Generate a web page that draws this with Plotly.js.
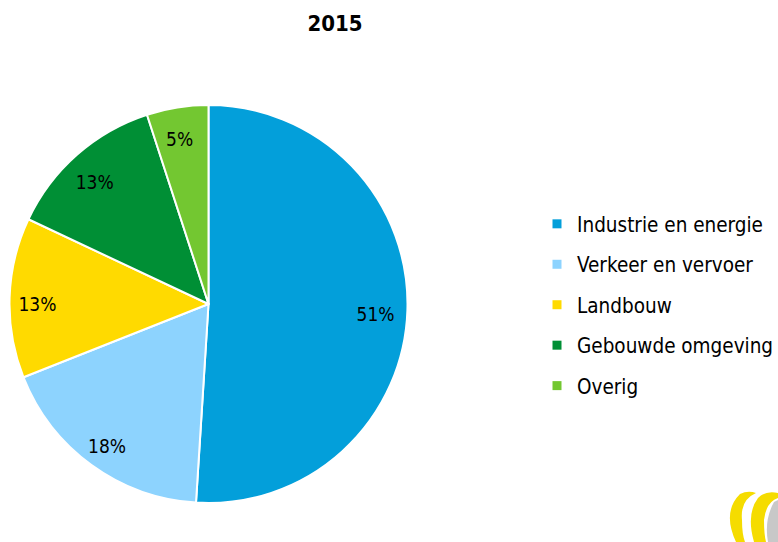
<!DOCTYPE html>
<html>
<head>
<meta charset="utf-8">
<script src="https://cdn.plot.ly/plotly-3.0.1.min.js"></script>
<style>html,body{margin:0;padding:0;background:#fff;}#chart{width:778px;height:542px;}</style>
</head>
<body>
<div id="chart"></div>
<script>
const title = '2015';
const categories = ['Industrie en energie', 'Verkeer en vervoer', 'Landbouw', 'Gebouwde omgeving', 'Overig'];
const values = [51, 18, 13, 13, 5];
const colors = ['#039FDA', '#8DD3FE', '#FFDA00', '#008F35', '#73C731'];

const FONT = '"DejaVu Sans Condensed", "DejaVu Sans", sans-serif';
function dom(cx, cy, half) {
  return {x: [(cx - half) / 778, (cx + half) / 778], y: [(542 - cy - half) / 542, (542 - cy + half) / 542]};
}
const pieDomain = dom(208.5, 304, 199);
const labelDomain = dom(206.5, 309, 199);

const traces = [
  {
    type: 'pie', labels: categories, values: values, sort: false,
    direction: 'clockwise', rotation: 0, domain: pieDomain,
    marker: {colors: colors, line: {color: '#ffffff', width: 2}},
    textinfo: 'none', showlegend: false, hoverinfo: 'skip'
  },
  {
    // transparent ring used only to place the percentage labels near the rim
    type: 'pie', labels: categories, values: values, sort: false,
    direction: 'clockwise', rotation: 0, domain: labelDomain, hole: 0.7,
    marker: {colors: categories.map(() => 'rgba(0,0,0,0)'), line: {width: 0}},
    textinfo: 'percent', textposition: 'inside', insidetextorientation: 'horizontal',
    insidetextfont: {family: FONT, size: 19, color: '#000000'},
    showlegend: false, hoverinfo: 'skip'
  }
];
categories.forEach((c, i) => {
  traces.push({
    type: 'scatter', x: [null], y: [null], mode: 'markers', name: c,
    legendgroup: 'g' + i, showlegend: true,
    marker: {symbol: 'square', size: 9, color: colors[i]}, hoverinfo: 'skip'
  });
});

const layout = {
  width: 778, height: 542,
  margin: {l: 0, r: 0, t: 0, b: 0, autoexpand: false},
  paper_bgcolor: '#ffffff', plot_bgcolor: '#ffffff',
  font: {family: FONT, color: '#000000'},
  title: {text: '<b>' + title + '</b>', x: 335 / 778, xanchor: 'center', y: 1 - 23 / 542, yanchor: 'middle',
          font: {family: FONT, size: 22, color: '#000000'}},
  xaxis: {visible: false}, yaxis: {visible: false},
  showlegend: true,
  legend: {x: 537 / 778, xanchor: 'left', y: 1 - 204 / 542, yanchor: 'top',
           font: {family: FONT, size: 20.5, color: '#000000'}, tracegroupgap: 10.8,
           bgcolor: 'rgba(0,0,0,0)', borderwidth: 0, itemclick: false},
  shapes: [
    {type: 'path', xref: 'paper', yref: 'paper', xsizemode: 'pixel', ysizemode: 'pixel', xanchor: 1, yanchor: 0,
     path: 'M -42,0 Q -56,30 -38,48 Q -30,52 -22,49 Q -38,42 -36,22 Q -36,8 -33,0 Z',
     fillcolor: '#F5DC00', line: {width: 0}, layer: 'above'},
    {type: 'path', xref: 'paper', yref: 'paper', xsizemode: 'pixel', ysizemode: 'pixel', xanchor: 1, yanchor: 0,
     path: 'M -24,0 Q -32,28 -20,44 Q -12,52 0,49 L 0,44 Q -12,40 -14,22 Q -14,8 -12,0 Z',
     fillcolor: '#F5DC00', line: {width: 0}, layer: 'above'},
    {type: 'path', xref: 'paper', yref: 'paper', xsizemode: 'pixel', ysizemode: 'pixel', xanchor: 1, yanchor: 0,
     path: 'M -10,0 Q -14,22 -4,40 L 0,42 L 0,0 Z',
     fillcolor: '#C8C8C8', line: {width: 0}, layer: 'above'}
  ]
};

Plotly.newPlot('chart', traces, layout, {displayModeBar: false, staticPlot: true});
</script>
</body>
</html>
